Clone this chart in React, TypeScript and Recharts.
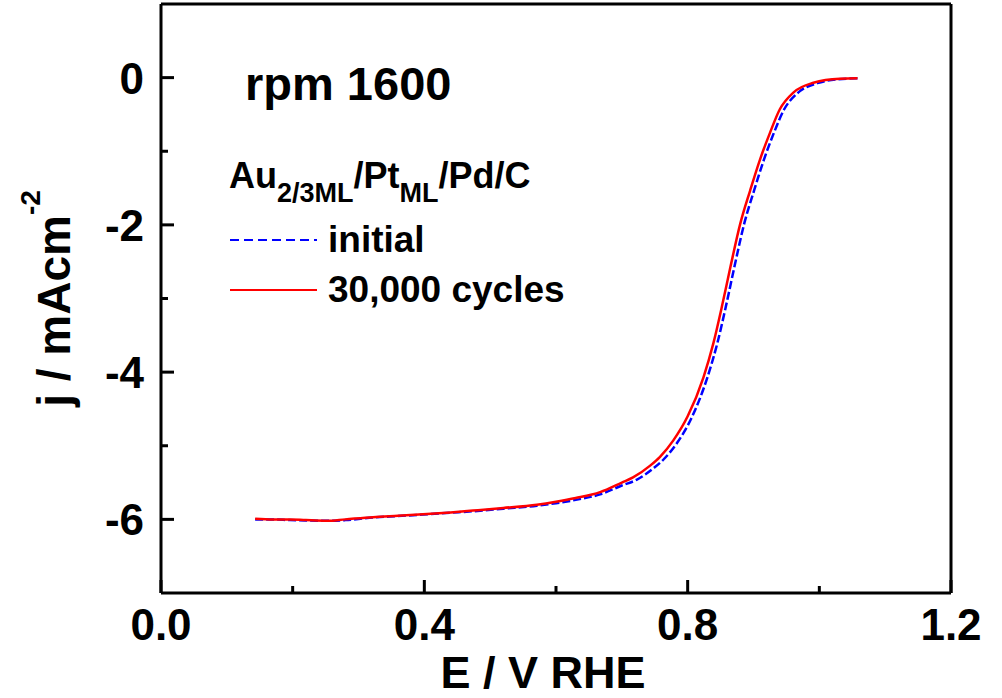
import React from 'react';
import { LineChart, Line, XAxis, YAxis, Legend } from 'recharts';

// Arial-compatible face that is installed in the sandbox
const FONT = '"Liberation Sans", Arial, Helvetica, sans-serif';

// potential (V vs RHE) and current density (mA cm^-2)
const initialE = [
  0.143, 0.17, 0.196, 0.22, 0.252, 0.28, 0.322, 0.36, 0.398, 0.44, 0.474, 0.52,
  0.571, 0.6, 0.63, 0.667, 0.7, 0.723, 0.749, 0.764, 0.784, 0.806, 0.83, 0.845,
  0.858, 0.871, 0.886, 0.901, 0.916, 0.931, 0.946, 0.967, 0.997, 1.035, 1.058,
];
const initialJ = [
  -6.0, -6.0, -6.01, -6.015, -6.02, -6.01, -5.975, -5.955, -5.935, -5.91, -5.89,
  -5.855, -5.815, -5.78, -5.735, -5.66, -5.54, -5.46, -5.3, -5.18, -4.96, -4.62,
  -4.07, -3.61, -3.11, -2.57, -1.98, -1.53, -1.11, -0.75, -0.44, -0.21, -0.075,
  -0.018, -0.01,
];

const cycledE = [
  0.143, 0.17, 0.196, 0.22, 0.252, 0.28, 0.322, 0.36, 0.398, 0.44, 0.474, 0.52,
  0.571, 0.6, 0.63, 0.667, 0.7, 0.717, 0.743, 0.758, 0.778, 0.8, 0.824, 0.839,
  0.852, 0.865, 0.88, 0.895, 0.91, 0.925, 0.94, 0.961, 0.991, 1.031, 1.058,
];
const cycledJ = [
  -5.99, -6.0, -6.0, -6.01, -6.02, -6.0, -5.97, -5.95, -5.93, -5.905, -5.88,
  -5.845, -5.8, -5.76, -5.71, -5.63, -5.5, -5.43, -5.27, -5.15, -4.93, -4.6,
  -4.07, -3.61, -3.11, -2.57, -1.98, -1.53, -1.11, -0.75, -0.43, -0.2, -0.07,
  -0.015, -0.01,
];

const seriesNames = ['initial', '30,000 cycles'];

const xTicks = [0, 0.2, 0.4, 0.6, 0.8, 1.0, 1.2];
const xMajor = [0, 0.4, 0.8, 1.2];
const yTicks = [0, -1, -2, -3, -4, -5, -6];
const yMajor = [0, -2, -4, -6];

const initialData = initialE.map((E, i) => ({ E, j: initialJ[i] }));
const cycledData = cycledE.map((E, i) => ({ E, j: cycledJ[i] }));

const AXIS_LINE = { stroke: '#000', strokeWidth: 3 };
const MAJOR = 13;
const MINOR = 7;

function BottomTick({ x, y, payload }: any) {
  const major = xMajor.includes(payload.value);
  return (
    <g>
      <line x1={x} x2={x} y1={y} y2={y - (major ? MAJOR : MINOR)} stroke="#000" strokeWidth={3} />
      {major && (
        <text x={x} y={y + 47} textAnchor="middle" fontFamily={FONT} fontWeight="bold" fontSize={44} fill="#000">
          {payload.value.toFixed(1)}
        </text>
      )}
    </g>
  );
}

function TopTick({ x, y, payload }: any) {
  const major = xMajor.includes(payload.value);
  return <line x1={x} x2={x} y1={y} y2={y + (major ? MAJOR : MINOR)} stroke="#000" strokeWidth={3} />;
}

function LeftTick({ x, y, payload }: any) {
  const major = yMajor.includes(payload.value);
  return (
    <g>
      <line x1={x} x2={x + (major ? MAJOR : MINOR)} y1={y} y2={y} stroke="#000" strokeWidth={3} />
      {major && (
        <text x={x - 17} y={y + 16} textAnchor="end" fontFamily={FONT} fontWeight="bold" fontSize={44} fill="#000">
          {String(payload.value)}
        </text>
      )}
    </g>
  );
}

function RightTick({ x, y, payload }: any) {
  const major = yMajor.includes(payload.value);
  return <line x1={x} x2={x - (major ? MAJOR : MINOR)} y1={y} y2={y} stroke="#000" strokeWidth={3} />;
}

function YTitle(props: any) {
  const vb = props.viewBox || { x: 0, y: 4, width: 161, height: 589 };
  const cx = vb.x + 70;
  const cy = vb.y + vb.height / 2;
  return (
    <text
      x={cx}
      y={cy}
      transform={`rotate(-90 ${cx} ${cy})`}
      textAnchor="middle"
      fontFamily={FONT}
      fontWeight="bold"
      fontSize={46}
      fill="#000"
    >
      j / mAcm
      <tspan fontSize={28} dy={-30}>-2</tspan>
    </text>
  );
}

function XTitle(props: any) {
  const vb = props.viewBox || { x: 161, y: 593, width: 790, height: 105 };
  return (
    <text
      x={vb.x + vb.width / 2 - 13}
      y={vb.y + 95}
      textAnchor="middle"
      fontFamily={FONT}
      fontWeight="bold"
      fontSize={45}
      fill="#000"
    >
      E / V RHE
    </text>
  );
}

// annotation and legend drawn as an overlay at page coordinates
function LegendBox({ payload }: any) {
  const rows = [...(payload || [])].sort(
    (a: any, b: any) => seriesNames.indexOf(a.value) - seriesNames.indexOf(b.value)
  );
  return (
    <svg width={1002} height={698} style={{ display: 'block' }}>
      <text x={245} y={100} fontFamily={FONT} fontWeight="bold" fontSize={47} fill="#000">
        rpm 1600
      </text>
      <text x={229} y={188} fontFamily={FONT} fontWeight="bold" fontSize={36} fill="#000">
        Au
        <tspan fontSize={27} dy={14}>2/3ML</tspan>
        <tspan dy={-14}>/Pt</tspan>
        <tspan fontSize={27} dy={14}>ML</tspan>
        <tspan dy={-14}>/Pd/C</tspan>
      </text>
      {rows.map((entry: any, i: number) => {
        const y = 240 + i * 50;
        const dashed = !!(entry.payload && entry.payload.strokeDasharray);
        return (
          <g key={entry.value}>
            <line x1={230} x2={317} y1={y} y2={y} stroke={entry.color} strokeWidth={2} strokeDasharray={dashed ? '9 5' : undefined} />
            <text x={328} y={y + 12} fontFamily={FONT} fontWeight="bold" fontSize={37} fill="#000">
              {entry.value}
            </text>
          </g>
        );
      })}
    </svg>
  );
}

export default function App() {
  return (
    <div style={{ position: 'absolute', left: 0, top: 0, background: '#fff' }}>
      <LineChart width={1002} height={698} margin={{ top: 0, right: 0, bottom: 0, left: 0 }}>
        <XAxis
          dataKey="E"
          type="number"
          domain={[0, 1.2]}
          ticks={xTicks}
          interval={0}
          height={105}
          tickSize={0}
          tickMargin={0}
          tickLine={false}
          axisLine={AXIS_LINE}
          tick={<BottomTick />}
          label={<XTitle />}
        />
        <XAxis
          xAxisId="top"
          orientation="top"
          dataKey="E"
          type="number"
          domain={[0, 1.2]}
          ticks={xTicks}
          interval={0}
          height={4}
          tickSize={0}
          tickMargin={0}
          tickLine={false}
          axisLine={AXIS_LINE}
          tick={<TopTick />}
        />
        <YAxis
          type="number"
          domain={[-7, 1]}
          ticks={yTicks}
          interval={0}
          width={161}
          tickSize={0}
          tickMargin={0}
          tickLine={false}
          axisLine={AXIS_LINE}
          tick={<LeftTick />}
          label={<YTitle />}
        />
        <YAxis
          yAxisId="right"
          orientation="right"
          type="number"
          domain={[-7, 1]}
          ticks={yTicks}
          interval={0}
          width={51}
          tickSize={0}
          tickMargin={0}
          tickLine={false}
          axisLine={AXIS_LINE}
          tick={<RightTick />}
        />
        <Legend
          layout="vertical"
          align="center"
          verticalAlign="middle"
          wrapperStyle={{ left: 0, top: 0, width: 1002, height: 698, pointerEvents: 'none' }}
          content={<LegendBox />}
        />
        <Line
          data={initialData}
          dataKey="j"
          name="initial"
          type="monotone"
          stroke="#0000ff"
          strokeWidth={2.5}
          strokeDasharray="8 3"
          dot={false}
          isAnimationActive={false}
        />
        <Line
          data={cycledData}
          dataKey="j"
          name="30,000 cycles"
          type="monotone"
          stroke="#ff0000"
          strokeWidth={2.5}
          dot={false}
          isAnimationActive={false}
        />
      </LineChart>
    </div>
  );
}
